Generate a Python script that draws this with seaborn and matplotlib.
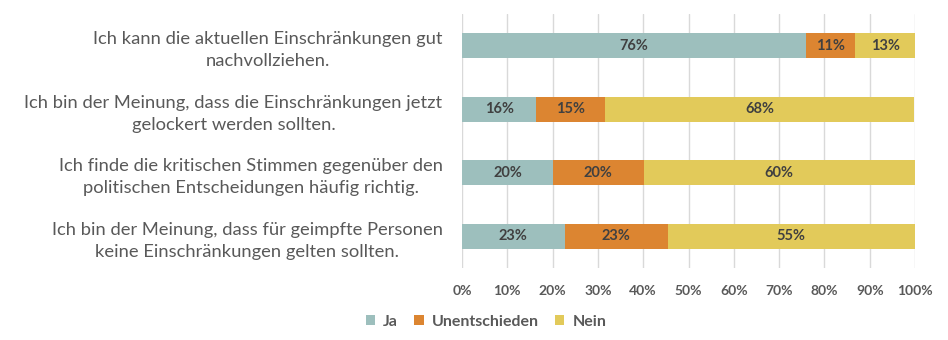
import matplotlib
matplotlib.use("Agg")
import matplotlib.pyplot as plt
import seaborn as sns
import numpy as np
import pandas as pd
from matplotlib.patches import Patch

categories = [
    "Ich kann die aktuellen Einschränkungen gut\nnachvollziehen.",
    "Ich bin der Meinung, dass die Einschränkungen jetzt\ngelockert werden sollten.",
    "Ich finde die kritischen Stimmen gegenüber den\npolitischen Entscheidungen häufig richtig.",
    "Ich bin der Meinung, dass für geimpfte Personen\nkeine Einschränkungen gelten sollten.",
]
ja = [76.0, 16.4, 20.1, 22.7]
unentschieden = [10.8, 15.2, 20.0, 22.7]
nein = [13.2, 68.1, 59.9, 54.6]
series_names = ["Ja", "Unentschieden", "Nein"]
colors = ["#9DBFBD", "#DC8531", "#E2CA5A"]

sns.set_theme(style="white")
plt.rcParams["font.family"] = ["Lato", "DejaVu Sans"]

df = pd.DataFrame({"cat": categories, "Ja": ja, "Unentschieden": unentschieden, "Nein": nein})
df["c1"] = df["Ja"]
df["c2"] = df["Ja"] + df["Unentschieden"]
df["c3"] = df["c2"] + df["Nein"]

fig = plt.figure(figsize=(9.48, 3.40), dpi=100)
ax = fig.add_axes([462 / 948, 1 - 268 / 340, (915 - 462) / 948, (268 - 14) / 340])

bw = 0.4
sns.barplot(data=df, y="cat", x="c3", color=colors[2], saturation=1, width=bw, ax=ax, orient="h")
sns.barplot(data=df, y="cat", x="c2", color=colors[1], saturation=1, width=bw, ax=ax, orient="h")
sns.barplot(data=df, y="cat", x="c1", color=colors[0], saturation=1, width=bw, ax=ax, orient="h")
for p in ax.patches:
    p.set_linewidth(0)

for i in range(len(categories)):
    starts = [0, df["c1"][i], df["c2"][i]]
    vals = [ja[i], unentschieden[i], nein[i]]
    for s, v in zip(starts, vals):
        ax.text(s + v / 2, i, f"{round(v)}%", ha="center", va="center", fontsize=10.5,
                fontweight="bold", color="#404040")

ax.set_xlim(0, 100)
ax.set_ylim(3.5, -0.5)
ax.set_xticks(np.arange(0, 101, 10))
ax.set_xticklabels([f"{t}%" for t in range(0, 101, 10)], fontsize=10, fontweight="bold", color="#595959")
ax.set_yticks(range(len(categories)))
ax.set_yticklabels(categories, fontsize=13.2, color="#595959", multialignment="center", linespacing=1.45)
ax.tick_params(axis="y", length=0, pad=14)
ax.tick_params(axis="x", length=0, pad=12)
ax.set_xlabel("")
ax.set_ylabel("")
ax.grid(axis="x", color="#D9D9D9", linewidth=1)
ax.set_axisbelow(True)
for sp in ax.spines.values():
    sp.set_visible(False)

handles = [Patch(facecolor=c, edgecolor="none", label=n) for c, n in zip(colors, series_names)]
fig.legend(handles=handles, loc="center", bbox_to_anchor=(486 / 948, 1 - 322 / 340), ncol=3,
           frameon=False, handlelength=0.6, handleheight=0.6, handletextpad=0.5, columnspacing=1.0,
           prop={"size": 11.5, "weight": "bold"}, labelcolor="#595959")

fig.savefig("out.png", dpi=100)
